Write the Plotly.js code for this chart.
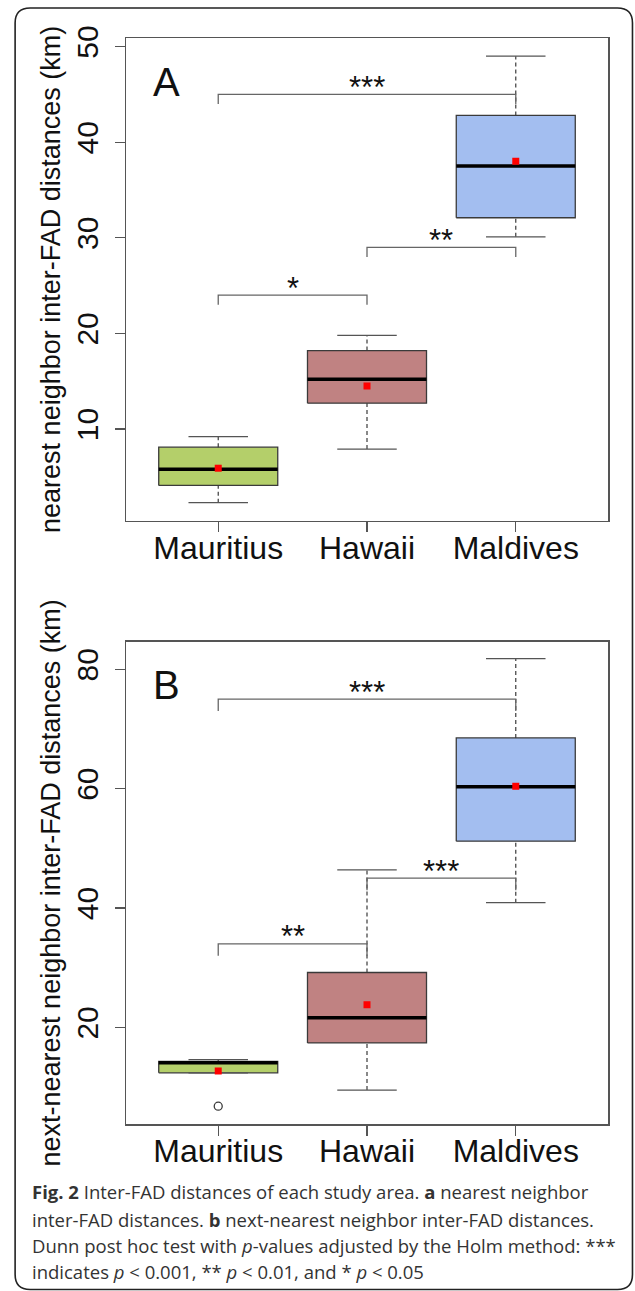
<!DOCTYPE html>
<html>
<head>
<meta charset="utf-8">
<script src="https://cdn.plot.ly/plotly-3.0.1.min.js"></script>
<style>
  html, body { margin: 0; padding: 0; background: #fff; }
  #chart { width: 635px; height: 1291px; }
</style>
</head>
<body>
<div id="chart"></div>
<script>
// ---------- data ----------
const categories = ['Mauritius', 'Hawaii', 'Maldives'];

// Panel A: nearest neighbor inter-FAD distances (km)
const lowA  = [2.3, 7.9, 30.1];
const q1A   = [4.1, 12.7, 32.1];
const medA  = [5.8, 15.2, 37.5];
const q3A   = [8.1, 18.2, 42.8];
const highA = [9.2, 19.8, 49.0];
const meanA = [5.9, 14.5, 38.0];
const outCatA = [];
const outValA = [];

// Panel B: next-nearest neighbor inter-FAD distances (km)
const lowB  = [12.4, 9.5, 40.9];
const q1B   = [12.4, 17.4, 51.2];
const medB  = [14.1, 21.6, 60.3];
const q3B   = [14.3, 29.2, 68.5];
const highB = [14.6, 46.4, 81.8];
const meanB = [12.7, 23.8, 60.4];
const outCatB = ['Mauritius'];
const outValB = [6.8];

// significance brackets: from-category, to-category, height, label
const sigFromA  = ['Mauritius', 'Hawaii', 'Mauritius'];
const sigToA    = ['Maldives', 'Maldives', 'Hawaii'];
const sigYA     = [45, 29, 24];
const sigLabA   = ['***', '**', '*'];

const sigFromB  = ['Mauritius', 'Hawaii', 'Mauritius'];
const sigToB    = ['Maldives', 'Maldives', 'Hawaii'];
const sigYB     = [75, 45, 34];
const sigLabB   = ['***', '***', '**'];

const yTicksA = [10, 20, 30, 40, 50];
const yTicksB = [20, 40, 60, 80];

// ---------- styling ----------
const boxColors = ['#b4cf6a', '#c08282', '#a3bef0'];
const edge = '#3a3a3a';
const axisCol = '#555';
const FONT = 'Liberation Sans, Arial, sans-serif';
const BOXW = 0.4, CAPW = 0.2;

const W = 635, H = 1291;
const M = {l: 126, r: 26.5, t: 38, b: 167};
const PW = W - M.l - M.r, PH = H - M.t - M.b;
const pxX = px => (px - M.l) / PW;
const pxY = py => (H - M.b - py) / PH;

const pos = c => categories.indexOf(c) + 1;

function panelTraces(xa, ya, low, q1, med, q3, high, mean, outCat, outVal) {
  const traces = [];
  categories.forEach((c, i) => {
    const x = i + 1;
    traces.push({
      type: 'scatter', mode: 'lines', xaxis: xa, yaxis: ya,
      x: [x - BOXW, x + BOXW, x + BOXW, x - BOXW, x - BOXW],
      y: [q1[i], q1[i], q3[i], q3[i], q1[i]],
      fill: 'toself', fillcolor: boxColors[i],
      line: {color: edge, width: 1.3}, hoverinfo: 'skip', showlegend: false
    });
  });
  // whiskers (dashed)
  const wx = [], wy = [];
  categories.forEach((c, i) => {
    const x = i + 1;
    wx.push(x, x, null, x, x, null);
    wy.push(q3[i], high[i], null, low[i], q1[i], null);
  });
  traces.push({type: 'scatter', mode: 'lines', xaxis: xa, yaxis: ya, x: wx, y: wy,
    line: {color: edge, width: 1.2, dash: '4px,3px'}, hoverinfo: 'skip', showlegend: false});
  // caps
  const cx = [], cy = [];
  categories.forEach((c, i) => {
    const x = i + 1;
    cx.push(x - CAPW, x + CAPW, null, x - CAPW, x + CAPW, null);
    cy.push(high[i], high[i], null, low[i], low[i], null);
  });
  traces.push({type: 'scatter', mode: 'lines', xaxis: xa, yaxis: ya, x: cx, y: cy,
    line: {color: '#555', width: 1.3}, hoverinfo: 'skip', showlegend: false});
  // medians
  const mx = [], my = [];
  categories.forEach((c, i) => {
    const x = i + 1;
    mx.push(x - BOXW, x + BOXW, null);
    my.push(med[i], med[i], null);
  });
  traces.push({type: 'scatter', mode: 'lines', xaxis: xa, yaxis: ya, x: mx, y: my,
    line: {color: '#000', width: 3.5}, hoverinfo: 'skip', showlegend: false});
  // means
  traces.push({type: 'scatter', mode: 'markers', xaxis: xa, yaxis: ya,
    x: categories.map((c, i) => i + 1), y: mean,
    marker: {symbol: 'square', size: 7, color: '#ff0000', line: {width: 0}},
    hoverinfo: 'skip', showlegend: false});
  // outliers
  if (outVal.length) {
    traces.push({type: 'scatter', mode: 'markers', xaxis: xa, yaxis: ya,
      x: outCat.map(pos), y: outVal,
      marker: {symbol: 'circle-open', size: 8, color: edge, line: {width: 1.3, color: edge}},
      hoverinfo: 'skip', showlegend: false});
  }
  return traces;
}

function bracketTrace(xa, ya, from, to, ys, drop) {
  const bx = [], by = [];
  from.forEach((f, i) => {
    const a = pos(f), b = pos(to[i]);
    bx.push(a, a, b, b, null);
    by.push(ys[i] - drop, ys[i], ys[i], ys[i] - drop, null);
  });
  return {type: 'scatter', mode: 'lines', xaxis: xa, yaxis: ya, x: bx, y: by,
    line: {color: '#666', width: 1.3}, hoverinfo: 'skip', showlegend: false};
}

function bracketLabels(xa, ya, from, to, ys, labs) {
  return labs.map((l, i) => ({
    xref: xa, yref: ya, x: (pos(from[i]) + pos(to[i])) / 2, y: ys[i],
    text: l, showarrow: false, xanchor: 'center', yanchor: 'middle', yshift: 7,
    font: {family: FONT, size: 31, color: '#111'}
  }));
}

const traces = [
  ...panelTraces('x', 'y', lowA, q1A, medA, q3A, highA, meanA, outCatA, outValA),
  bracketTrace('x', 'y', sigFromA, sigToA, sigYA, 1),
  ...panelTraces('x2', 'y2', lowB, q1B, medB, q3B, highB, meanB, outCatB, outValB),
  bracketTrace('x2', 'y2', sigFromB, sigToB, sigYB, 2)
];

const xCommon = {
  range: [0.38, 3.62], tickvals: [1, 2, 3], ticktext: categories,
  ticks: 'outside', ticklen: 10, tickwidth: 1.3, tickcolor: axisCol,
  showline: true, mirror: true, linecolor: axisCol, linewidth: 1.5,
  showgrid: false, zeroline: false, ticklabelstandoff: -12,
  tickfont: {family: FONT, size: 32, color: '#111'}
};
const yCommon = {
  ticks: 'outside', ticklen: 10, tickwidth: 1.3, tickcolor: axisCol,
  showline: true, mirror: true, linecolor: axisCol, linewidth: 1.5,
  showgrid: false, zeroline: false, tickangle: -90, ticklabelstandoff: 5,
  tickfont: {family: FONT, size: 30, color: '#111'}
};

const domA = [pxY(520.7), 1];
const domB = [0, pxY(641.7)];

const annotations = [
  ...bracketLabels('x', 'y', sigFromA, sigToA, sigYA, sigLabA),
  ...bracketLabels('x2', 'y2', sigFromB, sigToB, sigYB, sigLabB),
  {xref: 'x domain', yref: 'y domain', x: 0.083, y: 0.909, text: 'A', showarrow: false,
   xanchor: 'center', yanchor: 'middle', font: {family: FONT, size: 40, color: '#111'}},
  {xref: 'x2 domain', yref: 'y2 domain', x: 0.083, y: 0.910, text: 'B', showarrow: false,
   xanchor: 'center', yanchor: 'middle', font: {family: FONT, size: 40, color: '#111'}}
];

const capFont = {family: 'Open Sans, sans-serif', size: 18.5, color: '#333'};
const captionLines = [
  '<b>Fig. 2</b> Inter-FAD distances of each study area. <b>a</b> nearest neighbor',
  'inter-FAD distances. <b>b</b> next-nearest neighbor inter-FAD distances.',
  'Dunn post hoc test with <i>p</i>-values adjusted by the Holm method: ***',
  'indicates <i>p</i> &lt; 0.001, ** <i>p</i> &lt; 0.01, and * <i>p</i> &lt; 0.05'
];
const captionY = [1191.7, 1219, 1245.7, 1271.7];
captionLines.forEach((t, i) => annotations.push({
  xref: 'paper', yref: 'paper', x: pxX(30), y: pxY(captionY[i]), text: t,
  showarrow: false, xanchor: 'left', yanchor: 'middle', align: 'left', font: capFont
}));

// rounded border around the figure
function roundedRect(x0, y0, x1, y1, r) {
  const X = pxX, Y = pxY;
  return `M ${X(x0 + r)},${Y(y0)} L ${X(x1 - r)},${Y(y0)} Q ${X(x1)},${Y(y0)} ${X(x1)},${Y(y0 + r)} ` +
    `L ${X(x1)},${Y(y1 - r)} Q ${X(x1)},${Y(y1)} ${X(x1 - r)},${Y(y1)} ` +
    `L ${X(x0 + r)},${Y(y1)} Q ${X(x0)},${Y(y1)} ${X(x0)},${Y(y1 - r)} ` +
    `L ${X(x0)},${Y(y0 + r)} Q ${X(x0)},${Y(y0)} ${X(x0 + r)},${Y(y0)} Z`;
}

const layout = {
  width: W, height: H,
  margin: {l: M.l, r: M.r, t: M.t, b: M.b},
  paper_bgcolor: '#fff', plot_bgcolor: '#fff',
  showlegend: false,
  xaxis: Object.assign({}, xCommon, {anchor: 'y', domain: [0, 1]}),
  xaxis2: Object.assign({}, xCommon, {anchor: 'y2', domain: [0, 1]}),
  yaxis: Object.assign({}, yCommon, {anchor: 'x', domain: domA, range: [0.41, 50.9], tickvals: yTicksA,
    title: {text: 'nearest neighbor inter-FAD distances (km)', font: {family: FONT, size: 27, color: '#111'}, standoff: 2}}),
  yaxis2: Object.assign({}, yCommon, {anchor: 'x2', domain: domB, range: [3.82, 84.62], tickvals: yTicksB,
    title: {text: 'next-nearest neighbor inter-FAD distances (km)', font: {family: FONT, size: 27, color: '#111'}, standoff: 2}}),
  annotations: annotations,
  shapes: [{type: 'path', xref: 'paper', yref: 'paper', path: roundedRect(15, 8, 633, 1289.5, 15),
    line: {color: '#222', width: 1.6}, fillcolor: 'rgba(0,0,0,0)'}]
};

Plotly.newPlot('chart', traces, layout, {staticPlot: true, displayModeBar: false});
</script>
</body>
</html>
